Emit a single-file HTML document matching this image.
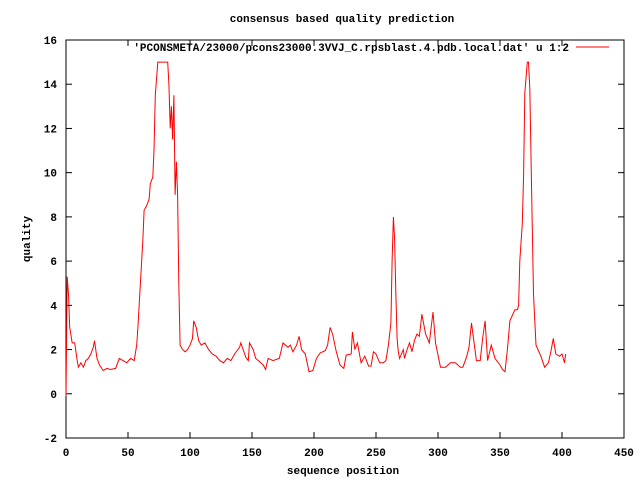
<!DOCTYPE html>
<html><head><meta charset="utf-8"><style>
body{margin:0;background:#fff;}
text{font-family:"Liberation Mono",monospace;font-size:11px;font-weight:bold;fill:#000;}
</style></head><body>
<svg width="640" height="480" xmlns="http://www.w3.org/2000/svg">
<rect width="640" height="480" fill="#fff"/>
<text x="342" y="22" text-anchor="middle">consensus based quality prediction</text>
<text x="343" y="474" text-anchor="middle">sequence position</text>
<text transform="translate(30,239) rotate(-90)" text-anchor="middle">quality</text>
<g id="axes"></g>
<rect x="66" y="40" width="558" height="398" fill="none" stroke="#000" stroke-width="1"/>
<g>
<text x="569" y="51" text-anchor="end">'PCONSMETA/23000/pcons23000.3VVJ_C.rpsblast.4.pdb.local.dat' u 1:2</text>
<line x1="576" y1="47" x2="609" y2="47" stroke="#f00" stroke-width="1"/>
</g>
<path id="series" fill="none" stroke="#f00" stroke-width="1"/>
</svg>
<script>
const xTicks=[0,50,100,150,200,250,300,350,400,450];
const yTicks=[-2,0,2,4,6,8,10,12,14,16];
const positions=[0,1,2,3,5,7,9,10,12,14,16,18,20,22,23,25,27,30,33,36,40,43,46,49,52,55,57,58,60,62,63,65,67,68,70,71,72,74,82,83,84,85,86,87,88,89,90,91,92,94,96,98,100,102,103,105,107,109,112,115,118,121,124,127,130,133,136,140,141,145,147,148,151,153,159,161,163,167,172,175,179,181,183,186,188,190,193,196,199,202,205,209,211,213,215,218,221,224,226,230,231,233,235,238,241,244,246,248,250,253,256,258,260,262,263,264,265,266,267,268,269,272,273,275,277,279,281,283,285,287,290,293,296,298,302,306,310,314,318,320,323,325,327,331,334,336,338,340,343,346,350,352,354,356,358,362,364,365,366,368,369,370,372,373,374,376,377,379,383,386,389,391,393,395,398,400,402,403];
const quality=[-0.1,5.3,4.5,3.0,2.3,2.3,1.5,1.2,1.4,1.2,1.5,1.6,1.8,2.1,2.4,1.6,1.3,1.05,1.15,1.1,1.15,1.6,1.5,1.4,1.6,1.5,2.2,3.0,5.0,7.0,8.3,8.5,8.8,9.5,9.8,11.0,13.5,15,15,14.0,12.0,13.0,11.5,13.5,9.0,10.5,9.0,5.0,2.2,2.0,1.9,2.0,2.2,2.5,3.3,3.0,2.4,2.2,2.3,2.0,1.8,1.7,1.5,1.4,1.6,1.5,1.8,2.1,2.3,1.65,1.5,2.3,2.0,1.6,1.3,1.1,1.6,1.5,1.6,2.3,2.1,2.2,1.9,2.2,2.6,2.0,1.8,1.0,1.05,1.6,1.85,1.95,2.2,3.0,2.7,1.9,1.3,1.15,1.75,1.8,2.8,2.0,2.3,1.4,1.7,1.25,1.25,1.9,1.8,1.4,1.4,1.5,2.2,3.2,6.0,8.0,7.0,4.6,2.5,1.9,1.6,2.0,1.6,2.0,2.3,1.9,2.4,2.7,2.6,3.6,2.7,2.3,3.7,2.3,1.2,1.2,1.4,1.4,1.2,1.2,1.65,2.1,3.2,1.5,1.5,2.5,3.3,1.5,2.2,1.6,1.3,1.1,1.0,2.0,3.3,3.8,3.8,4.0,6.0,7.7,9.9,13.6,15,15,13.8,7.7,4.5,2.2,1.7,1.2,1.4,1.9,2.5,1.8,1.7,1.8,1.4,1.8,2.3];
const X0=66,X1=624,Y0=438,Y1=40,XMIN=0,XMAX=450,YMIN=-2,YMAX=16;
function sx(v){return X0+(v-XMIN)/(XMAX-XMIN)*(X1-X0);}
function sy(v){return Y0-(v-YMIN)/(YMAX-YMIN)*(Y0-Y1);}
const NS="http://www.w3.org/2000/svg";
const axes=document.getElementById('axes');
xTicks.forEach(t=>{
  const x=sx(t);
  [[Y0,Y0-6],[Y1,Y1+6]].forEach(p=>{
    const l=document.createElementNS(NS,'line');
    l.setAttribute('x1',x);l.setAttribute('x2',x);l.setAttribute('y1',p[0]);l.setAttribute('y2',p[1]);
    l.setAttribute('stroke','#000');
    
    
    axes.appendChild(l);
  });
  const tx=document.createElementNS(NS,'text');
  tx.setAttribute('x',x);tx.setAttribute('y',Y0+18);tx.setAttribute('text-anchor','middle');
  tx.textContent=t;
  
  
  axes.appendChild(tx);
});
yTicks.forEach(t=>{
  const y=sy(t);
  [[X0,X0+6],[X1,X1-6]].forEach(p=>{
    const l=document.createElementNS(NS,'line');
    l.setAttribute('x1',p[0]);l.setAttribute('x2',p[1]);l.setAttribute('y1',y);l.setAttribute('y2',y);
    l.setAttribute('stroke','#000');
    
    
    axes.appendChild(l);
  });
  const tx=document.createElementNS(NS,'text');
  tx.setAttribute('x',X0-9);tx.setAttribute('y',y+4);tx.setAttribute('text-anchor','end');
  tx.textContent=t;
  
  
  axes.appendChild(tx);
});
let d='';
positions.forEach((p,i)=>{d+=(i?'L':'M')+sx(p).toFixed(1)+' '+sy(quality[i]).toFixed(1)+' ';});
document.getElementById('series').setAttribute('d',d);
</script>
</body></html>
